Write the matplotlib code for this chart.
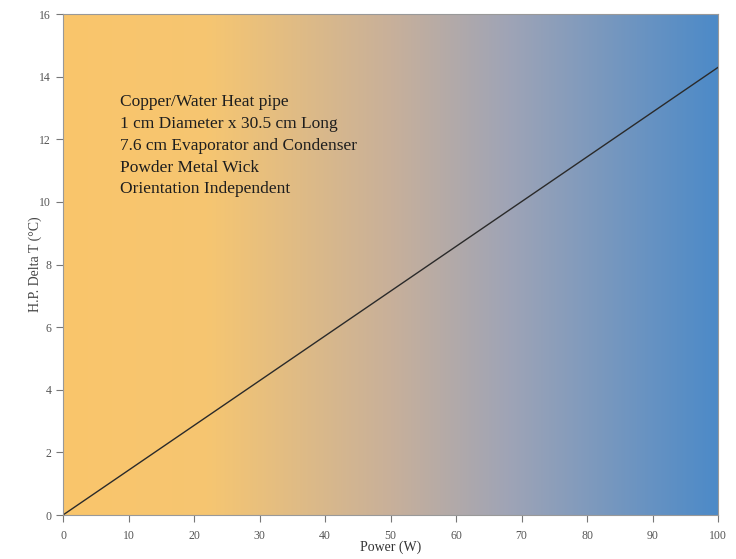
import numpy as np
import matplotlib.pyplot as plt
from matplotlib.colors import LinearSegmentedColormap

# heat pipe delta T vs. input power
power = [0, 100]
delta_t = [0, 14.3]

x_ticks = [0, 10, 20, 30, 40, 50, 60, 70, 80, 90, 100]
y_ticks = [0, 2, 4, 6, 8, 10, 12, 14, 16]

notes = ["Copper/Water Heat pipe",
         "1 cm Diameter x 30.5 cm Long",
         "7.6 cm Evaporator and Condenser",
         "Powder Metal Wick",
         "Orientation Independent"]

plt.rcParams['font.family'] = ['Liberation Serif', 'DejaVu Serif']

fig = plt.figure(figsize=(7.36, 5.59), dpi=100)
ax = fig.add_axes([0.0856, 0.0787, 0.89, 0.896])

# horizontal orange -> grey -> blue background
cmap = LinearSegmentedColormap.from_list(
    "bg", [(0.0, "#fac56b"), (0.22, "#f6c671"), (0.5, "#c8b09a"),
           (0.68, "#9fa4b6"), (1.0, "#4c8ac8")])
grad = np.linspace(0, 1, 256).reshape(1, -1)
ax.imshow(grad, cmap=cmap, aspect="auto", extent=[0, 100, 0, 16],
          zorder=0, interpolation="bicubic")

ax.plot(power, delta_t, color="#2a2a2a", lw=1.0, zorder=2)

ax.set_xlim(0, 100)
ax.set_ylim(0, 16)
ax.set_xticks(x_ticks)
ax.set_yticks(y_ticks)
ax.tick_params(colors="#777777", labelcolor="#555555", labelsize=8.5,
               length=5, width=0.8)
ax.tick_params(axis="x", pad=6)
for s in ax.spines.values():
    s.set_color("#999999")
    s.set_linewidth(0.8)

ax.set_xlabel("Power (W)", fontsize=10, color="#333333", labelpad=-1)
ax.set_ylabel("H.P. Delta T (°C)", fontsize=10, color="#444444", labelpad=-2)

for i, line in enumerate(notes):
    ax.text(8.7, 13.2 - i * 0.7, line, fontsize=12.5, color="#1e1e1e",
            va="center", ha="left", zorder=3)

fig.savefig("out.png", dpi=100)
